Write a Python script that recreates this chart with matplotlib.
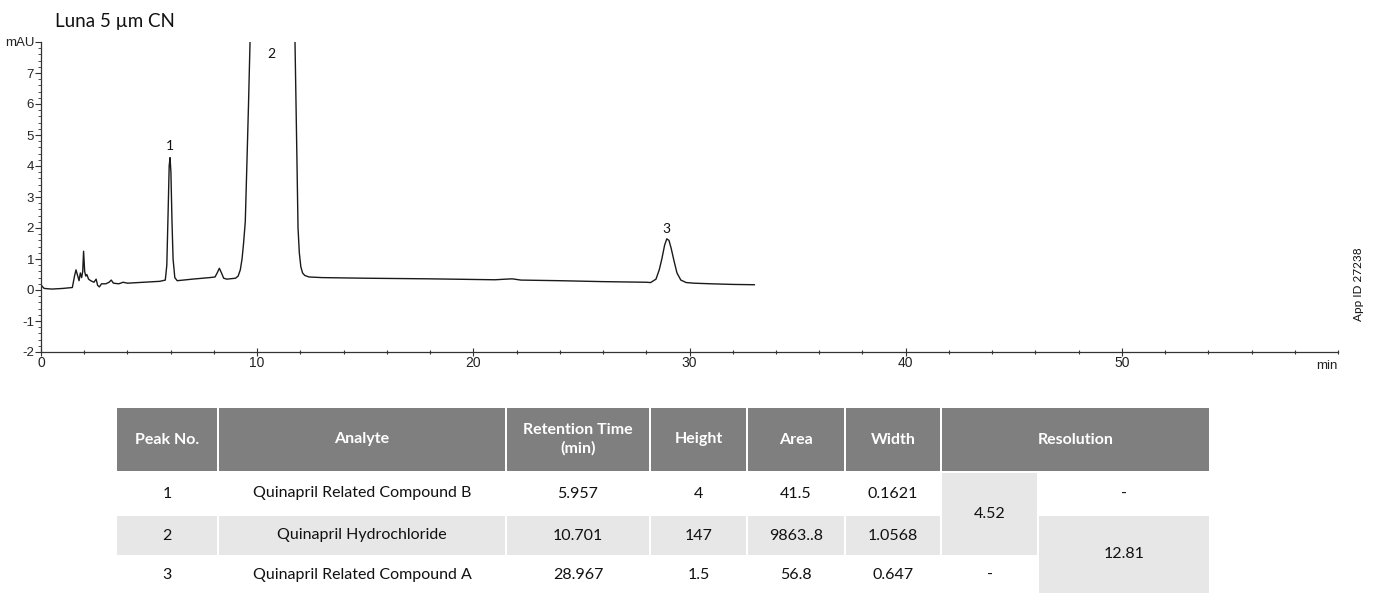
import matplotlib
matplotlib.use("Agg")
from matplotlib import pyplot as plt
from matplotlib.patches import Rectangle
from matplotlib.ticker import MultipleLocator
import matplotlib.transforms as mtransforms

# chromatogram trace (time in min, signal in mAU)
t = [0.0, 0.05, 0.15, 0.5, 1.0, 1.45, 1.55, 1.62, 1.7, 1.76, 1.82, 1.88, 1.93, 1.97,
     2.02, 2.07, 2.12, 2.2, 2.3, 2.45, 2.55, 2.62, 2.7, 2.8, 3.0, 3.15, 3.25, 3.35,
     3.6, 3.8, 4.0, 4.5, 5.0, 5.5, 5.75, 5.82, 5.88, 5.93, 5.97, 6.01, 6.06, 6.11,
     6.19, 6.3, 7.0, 7.8, 8.05, 8.15, 8.25, 8.35, 8.45, 8.6, 9.0, 9.12, 9.22, 9.3,
     9.37, 9.45, 9.53, 9.6, 9.67, 9.8, 10.2, 10.7, 11.2, 11.6, 11.75, 11.84, 11.89,
     11.95, 12.02, 12.1, 12.2, 12.4, 13.0, 15.0, 18.0, 20.0, 21.0, 21.5, 21.8, 22.2,
     24.0, 26.0, 28.0, 28.2, 28.45, 28.6, 28.72, 28.85, 28.95, 29.05, 29.15, 29.28,
     29.42, 29.6, 29.85, 30.2, 31.0, 32.0, 33.0]
mau = [0.18, 0.12, 0.05, 0.03, 0.05, 0.08, 0.45, 0.65, 0.45, 0.3, 0.55, 0.4, 0.6, 1.25,
       0.6, 0.45, 0.5, 0.35, 0.3, 0.25, 0.35, 0.15, 0.1, 0.2, 0.2, 0.25, 0.32, 0.22,
       0.2, 0.25, 0.22, 0.24, 0.26, 0.28, 0.32, 0.8, 2.5, 4.0, 4.27, 3.8, 2.2, 1.0,
       0.4, 0.3, 0.35, 0.4, 0.42, 0.55, 0.7, 0.55, 0.38, 0.35, 0.38, 0.45, 0.65, 1.0,
       1.5, 2.2, 4.2, 6.0, 8.0, 12.0, 60.0, 147.0, 60.0, 14.0, 8.0, 4.2, 2.0,
       1.2, 0.75, 0.55, 0.47, 0.42, 0.4, 0.38, 0.36, 0.34, 0.33, 0.35, 0.36, 0.32,
       0.3, 0.27, 0.25, 0.24, 0.35, 0.65, 1.0, 1.45, 1.65, 1.6, 1.35, 0.95,
       0.55, 0.32, 0.24, 0.22, 0.2, 0.18, 0.17]

# peak labels
peak_labels = ["1", "2", "3"]
peak_label_t = [5.97, 10.64, 28.95]
peak_label_y = [4.66, 7.6, 1.97]

# table
headers = ["Peak No.", "Analyte", "Retention Time\n(min)", "Height", "Area", "Width", "Resolution"]
peak_no = ["1", "2", "3"]
analytes = ["Quinapril Related Compound B", "Quinapril Hydrochloride", "Quinapril Related Compound A"]
ret_times = ["5.957", "10.701", "28.967"]
heights = ["4", "147", "1.5"]
areas = ["41.5", "9863..8", "56.8"]
widths = ["0.1621", "1.0568", "0.647"]
res_a = ["4.52", "-"]     # first resolution sub-column: rows 1-2 merged, row 3
res_b = ["-", "12.81"]    # second sub-column: row 1, rows 2-3 merged

W, H = 1374, 593
fig = plt.figure(figsize=(W / 100, H / 100), dpi=100)

# ---- chromatogram ----
ax = fig.add_axes([41 / W, 1 - 352 / H, (1338 - 41) / W, (352 - 42) / H])
ax.plot(t, mau, color="#1a1a1a", lw=1.0)
ax.set_xlim(0, 60)
ax.set_ylim(-2, 8)
for s in ["top", "right"]:
    ax.spines[s].set_visible(False)
for s in ["left", "bottom"]:
    ax.spines[s].set_color("#333333")
    ax.spines[s].set_linewidth(0.9)

ax.set_xticks([0, 10, 20, 30, 40, 50])
ax.set_xticklabels(["0", "10", "20", "30", "40", "50"], family="Liberation Sans",
                   fontsize=10, color="#222222")
ax.xaxis.set_minor_locator(MultipleLocator(2))
ax.set_yticks(range(-2, 9))
ax.set_yticklabels([str(v) for v in range(-2, 8)] + ["mAU"], family="Liberation Sans",
                   fontsize=9.5, color="#222222")
ax.yaxis.set_minor_locator(MultipleLocator(0.2))
ax.tick_params(axis="x", which="major", direction="inout", length=6, width=0.8,
               colors="#333333", pad=0)
ax.tick_params(axis="x", which="minor", direction="inout", length=3, width=0.8, colors="#333333")
ax.tick_params(axis="y", which="major", direction="out", length=4, width=0.8,
               colors="#333333", pad=1)
ax.tick_params(axis="y", which="minor", direction="out", length=2, width=0.6, colors="#333333")
for lab in ax.get_xticklabels() + ax.get_yticklabels():
    lab.set_color("#222222")

trans = mtransforms.blended_transform_factory(ax.transData, ax.transAxes)
ax.text(60, -0.025, "min", transform=trans, ha="right", va="top",
        fontsize=9.5, family="Liberation Sans", color="#222222")

for lab, px, py in zip(peak_labels, peak_label_t, peak_label_y):
    ax.text(px, py, lab, ha="center", va="center", fontsize=10, family="Lato", color="#111111")

fig.text(55 / W, 1 - 22 / H, "Luna 5 µm CN", ha="left", va="center",
         fontsize=13.5, family="Lato", color="#111111")
fig.text(1358 / W, 1 - 284 / H, "App ID 27238", rotation=90, ha="center", va="center",
         fontsize=8.5, family="Lato", color="#111111")

# ---- table (pixel coordinates) ----
tab = fig.add_axes([0, 0, 1, 1])
tab.set_xlim(0, W)
tab.set_ylim(H, 0)
tab.axis("off")

col_x = [116, 218, 506, 650, 747, 845, 941, 1038, 1210]
row_y = [407, 472, 515, 556, 594]
hdr_col = "#7f7f7f"
gray = "#e7e7e7"
g = 1.2


def cell(x0, x1, y0, y1, color):
    tab.add_patch(Rectangle((x0 + g, y0 + g), x1 - x0 - 2 * g, y1 - y0 - 2 * g,
                            facecolor=color, edgecolor="none"))


def txt(x0, x1, y0, y1, s, **kw):
    tab.text((x0 + x1) / 2, (y0 + y1) / 2, s, ha="center", va="center",
             family="Lato", fontsize=11.5, **kw)


# header
for i in range(6):
    cell(col_x[i], col_x[i + 1], row_y[0], row_y[1], hdr_col)
    txt(col_x[i], col_x[i + 1], row_y[0], row_y[1], headers[i], color="white",
        fontweight="bold", linespacing=1.4)
cell(col_x[6], col_x[8], row_y[0], row_y[1], hdr_col)
txt(col_x[6], col_x[8], row_y[0], row_y[1], headers[6], color="white", fontweight="bold")

rows = list(zip(peak_no, analytes, ret_times, heights, areas, widths))
for r, vals in enumerate(rows):
    y0, y1 = row_y[r + 1], row_y[r + 2]
    bg = gray if r == 1 else "white"
    for i, v in enumerate(vals):
        cell(col_x[i], col_x[i + 1], y0, y1, bg)
        txt(col_x[i], col_x[i + 1], y0, y1, v, color="#111111")

# resolution cells
cell(col_x[6], col_x[7], row_y[1], row_y[3], gray)
txt(col_x[6], col_x[7], row_y[1], row_y[3], res_a[0], color="#111111")
txt(col_x[6], col_x[7], row_y[3], row_y[4], res_a[1], color="#111111")
txt(col_x[7], col_x[8], row_y[1], row_y[2], res_b[0], color="#111111")
cell(col_x[7], col_x[8], row_y[2], row_y[4], gray)
txt(col_x[7], col_x[8], row_y[2], row_y[4], res_b[1], color="#111111")

fig.savefig("out.png", dpi=100)
